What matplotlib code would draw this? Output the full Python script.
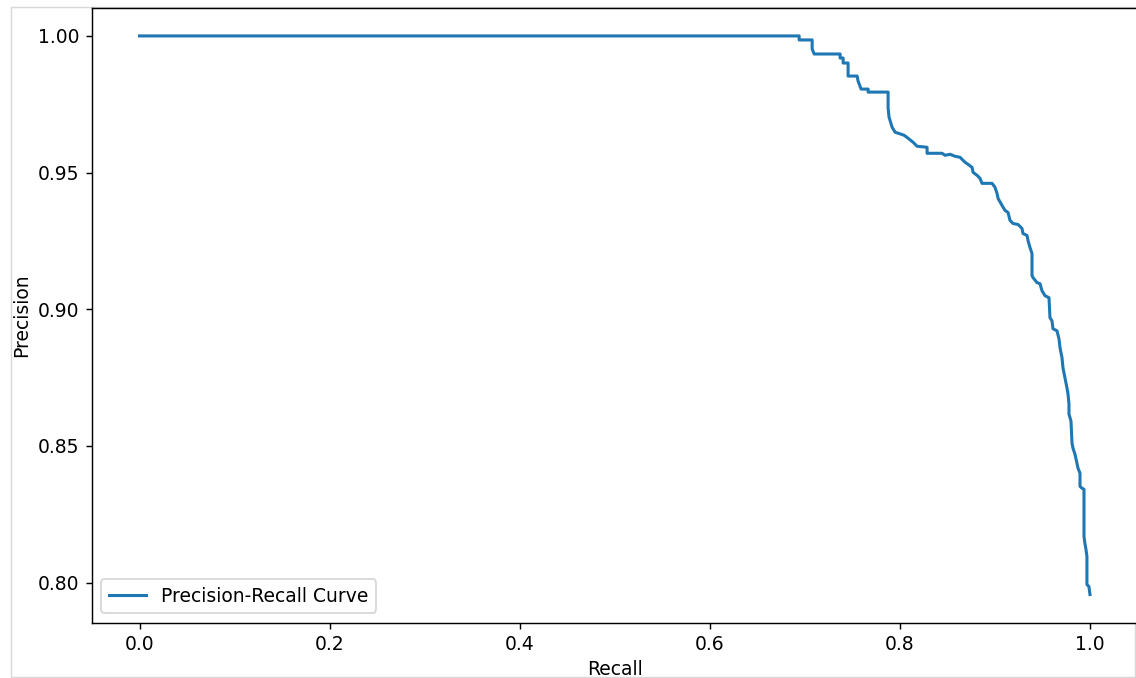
import matplotlib
matplotlib.use("Agg")
import matplotlib.pyplot as plt
from matplotlib.patches import Rectangle
from matplotlib.ticker import MultipleLocator, FormatStrFormatter

recall = [
    0.0, 0.6940, 0.6940, 0.7077, 0.7077, 0.7098, 0.7371, 0.7371, 0.7403, 0.7403,
    0.7455, 0.7455, 0.7550, 0.7560, 0.7592, 0.7666, 0.7666, 0.7876, 0.7876, 0.7886,
    0.7918, 0.7950, 0.8044, 0.8086, 0.8139, 0.8181, 0.8286, 0.8286, 0.8444, 0.8475,
    0.8528, 0.8580, 0.8633, 0.8654, 0.8686, 0.8717, 0.8759, 0.8770, 0.8812, 0.8843,
    0.8864, 0.8970, 0.9001, 0.9022, 0.9033, 0.9075, 0.9106, 0.9138, 0.9159, 0.9190,
    0.9243, 0.9285, 0.9295, 0.9338, 0.9348, 0.9369, 0.9390, 0.9390, 0.9401, 0.9443,
    0.9474, 0.9495, 0.9527, 0.9569, 0.9579, 0.9600, 0.9611, 0.9653, 0.9674, 0.9685,
    0.9706, 0.9716, 0.9737, 0.9758, 0.9769, 0.9779, 0.9779, 0.9800, 0.9811, 0.9821,
    0.9842, 0.9863, 0.9874, 0.9895, 0.9895, 0.9916, 0.9937, 0.9937, 0.9947, 0.9958,
    0.9968, 0.9968, 0.9989, 1.0,
]
precision = [
    1.0, 1.0, 0.99853, 0.99853, 0.99523, 0.99339, 0.99339, 0.99193, 0.99193, 0.99009,
    0.99009, 0.98532, 0.98532, 0.98349, 0.98055, 0.98055, 0.97945, 0.97945, 0.97358, 0.97028,
    0.96661, 0.96477, 0.96367, 0.96257, 0.96110, 0.95963, 0.95927, 0.95706, 0.95706, 0.95633,
    0.95670, 0.95596, 0.95560, 0.95486, 0.95376, 0.95303, 0.95193, 0.95009, 0.94899, 0.94789,
    0.94606, 0.94606, 0.94459, 0.94239, 0.94055, 0.93798, 0.93615, 0.93541, 0.93248, 0.93138,
    0.93101, 0.92954, 0.92771, 0.92697, 0.92514, 0.92257, 0.92037, 0.91229, 0.91156, 0.90972,
    0.90936, 0.90679, 0.90495, 0.90422, 0.89688, 0.89578, 0.89284, 0.89211, 0.88917, 0.88587,
    0.88220, 0.87853, 0.87486, 0.87119, 0.86899, 0.86532, 0.86165, 0.85908, 0.85101, 0.84917,
    0.84697, 0.84367, 0.84183, 0.84000, 0.83523, 0.83450, 0.83413, 0.81688, 0.81431, 0.81211,
    0.80954, 0.79927, 0.79853, 0.79560,
]

dpi = 130
plt.rcParams["font.size"] = 10.4
fig = plt.figure(figsize=(1136 / dpi, 678 / dpi), dpi=dpi)
ax = fig.add_axes([92 / 1136, (678 - 622.5) / 678, (1137.5 - 92) / 1136, (622.5 - 8) / 678])
ax.plot(recall, precision, color="#1f77b4", linewidth=1.7, label="Precision-Recall Curve")
ax.yaxis.set_major_locator(MultipleLocator(0.05))
ax.yaxis.set_major_formatter(FormatStrFormatter("%.2f"))
ax.set_xlabel("Recall", labelpad=3)
ax.set_ylabel("Precision")
ax.legend(loc="lower left")

fig.patches.append(Rectangle((11 / 1136, 1 / 678), (1135 - 11) / 1136, (671 - 1) / 678,
                             transform=fig.transFigure, fill=False,
                             edgecolor="#d9d9d9", linewidth=0.8, zorder=-1))

fig.savefig("out.png", dpi=dpi)
